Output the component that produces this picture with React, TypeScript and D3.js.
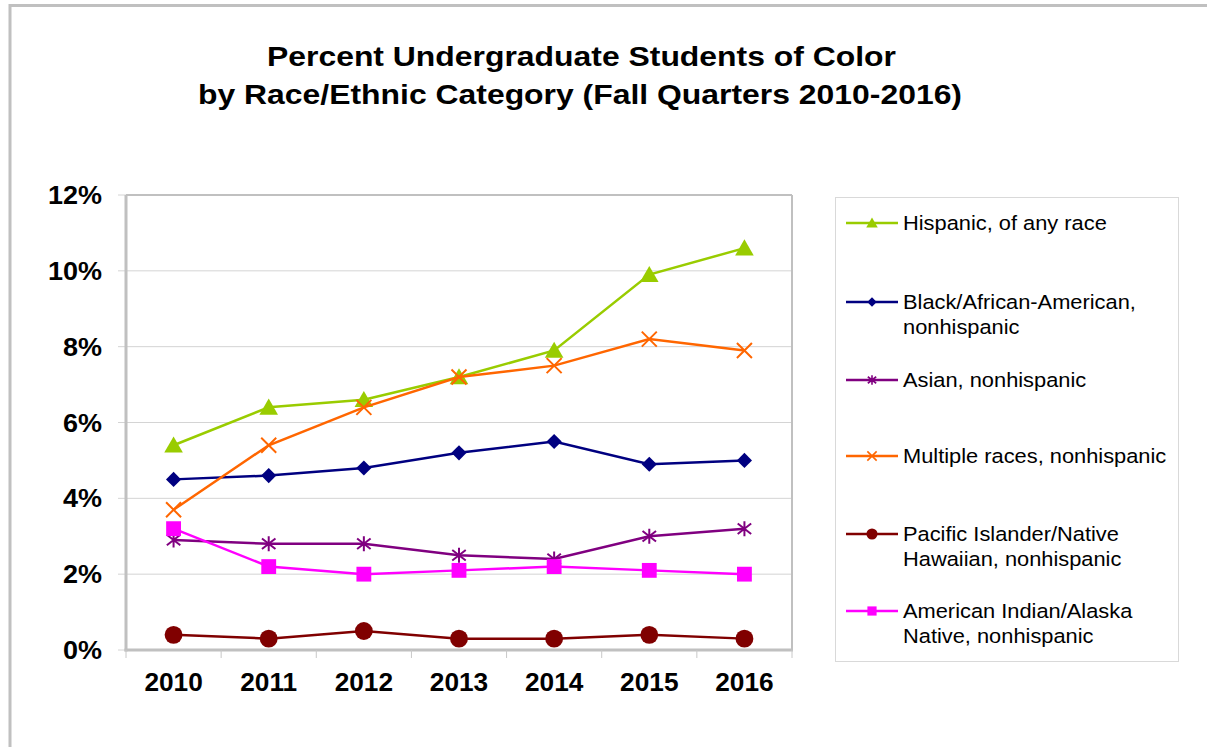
import React from 'react'
import * as d3 from 'd3'

const years = ['2010', '2011', '2012', '2013', '2014', '2015', '2016']

const hispanic = [5.4, 6.4, 6.6, 7.2, 7.9, 9.9, 10.6]
const black = [4.5, 4.6, 4.8, 5.2, 5.5, 4.9, 5.0]
const asian = [2.9, 2.8, 2.8, 2.5, 2.4, 3.0, 3.2]
const multiple = [3.7, 5.4, 6.4, 7.2, 7.5, 8.2, 7.9]
const pacific = [0.4, 0.3, 0.5, 0.3, 0.3, 0.4, 0.3]
const amIndian = [3.2, 2.2, 2.0, 2.1, 2.2, 2.1, 2.0]

const yTicks = [0, 2, 4, 6, 8, 10, 12]

type Marker = 'triangle' | 'diamond' | 'asterisk' | 'x' | 'circle' | 'square'

type Series = {
  label: string[]
  values: number[]
  color: string
  marker: Marker
}

// drawing order: last drawn on top
const series: Series[] = [
  { label: ['Hispanic, of any race'], values: hispanic, color: '#99CC00', marker: 'triangle' },
  { label: ['Black/African-American,', 'nonhispanic'], values: black, color: '#000080', marker: 'diamond' },
  { label: ['Asian, nonhispanic'], values: asian, color: '#800080', marker: 'asterisk' },
  { label: ['Multiple races, nonhispanic'], values: multiple, color: '#FF6600', marker: 'x' },
  { label: ['Pacific Islander/Native', 'Hawaiian, nonhispanic'], values: pacific, color: '#800000', marker: 'circle' },
  { label: ['American Indian/Alaska', 'Native, nonhispanic'], values: amIndian, color: '#FF00FF', marker: 'square' },
]

const legendRows = [223, 302, 380, 456, 534, 611]

const FONT = '"Liberation Sans", Arial, sans-serif'

const plot = { left: 126, right: 792, top: 195, bottom: 650 }

const xScale = d3
  .scaleBand<string>()
  .domain(years)
  .range([plot.left, plot.right])

const yScale = d3.scaleLinear().domain([0, 12]).range([plot.bottom, plot.top])

const symbolPath = (t: d3.SymbolType, size: number) => d3.symbol().type(t).size(size)() ?? ''

const MarkerShape: React.FC<{ m: Marker; x: number; y: number; color: string; small?: boolean }> = ({
  m,
  x,
  y,
  color,
  small,
}) => {
  const k = small ? 0.62 : 1
  if (m === 'x') {
    const r = 7.5 * k
    return (
      <path
        d={`M${x - r},${y - r}L${x + r},${y + r}M${x - r},${y + r}L${x + r},${y - r}`}
        stroke={color}
        strokeWidth={small ? 1.6 : 2}
        fill="none"
      />
    )
  }
  if (m === 'asterisk') {
    const r = 7.5 * k
    return (
      <path
        d={`M${x},${y - r}L${x},${y + r}M${x - r * 0.9},${y - r * 0.7}L${x + r * 0.9},${y + r * 0.7}M${x - r * 0.9},${y + r * 0.7}L${x + r * 0.9},${y - r * 0.7}`}
        stroke={color}
        strokeWidth={small ? 1.6 : 2}
        fill="none"
      />
    )
  }
  if (m === 'diamond') {
    return (
      <path
        d={symbolPath(d3.symbolSquare, 115 * k * k)}
        transform={`translate(${x},${y}) rotate(45)`}
        fill={color}
      />
    )
  }
  const types: Record<string, d3.SymbolType> = {
    triangle: d3.symbolTriangle,
    circle: d3.symbolCircle,
    square: d3.symbolSquare,
  }
  const sizes: Record<string, number> = { triangle: 150, circle: 250, square: 220 }
  const dy = m === 'triangle' ? 2 : 0
  return (
    <path
      d={symbolPath(types[m], sizes[m] * k * k)}
      transform={`translate(${x},${y + dy * k})`}
      fill={color}
    />
  )
}

// text with a horizontal stretch, to match the wide rendering of the original
const SText: React.FC<{
  x: number
  y: number
  sx: number
  size: number
  anchor?: 'start' | 'middle' | 'end'
  bold?: boolean
  children: React.ReactNode
}> = ({ x, y, sx, size, anchor = 'start', bold, children }) => (
  <text
    transform={`translate(${x},${y}) scale(${sx},1)`}
    dy="0.36em"
    textAnchor={anchor}
    fontSize={size}
    fontWeight={bold ? 'bold' : 'normal'}
    fill="#000"
  >
    {children}
  </text>
)

const App: React.FC = () => {
  const cx = (y: string) => xScale(y)! + xScale.bandwidth() / 2
  const line = (vals: number[]) =>
    d3
      .line<number>()
      .x((_, i) => cx(years[i]))
      .y((d) => yScale(d))(vals) ?? ''

  return (
    <svg
      width={1207}
      height={747}
      style={{ position: 'absolute', left: 0, top: 0, background: '#fff' }}
      fontFamily={FONT}
    >
      {/* chart frame */}
      <rect x={10} y={5.5} width={1220} height={760} fill="#fff" stroke="#c0c0c0" strokeWidth={3} />

      <text
        x={267}
        y={66}
        textLength={629}
        lengthAdjust="spacingAndGlyphs"
        fontSize={28}
        fontWeight="bold"
        fill="#000"
      >
        Percent Undergraduate Students of Color
      </text>
      <text
        x={198}
        y={104}
        textLength={764}
        lengthAdjust="spacingAndGlyphs"
        fontSize={28}
        fontWeight="bold"
        fill="#000"
      >
        by Race/Ethnic Category (Fall Quarters 2010-2016)
      </text>

      {/* gridlines */}
      {yTicks.map((t) => (
        <line
          key={t}
          x1={plot.left - 8}
          x2={plot.right}
          y1={yScale(t)}
          y2={yScale(t)}
          stroke="#d4d4d4"
          strokeWidth={1}
        />
      ))}
      <line x1={plot.left} x2={plot.right} y1={plot.top} y2={plot.top} stroke="#c0c0c0" strokeWidth={2} />
      <line x1={plot.right} x2={plot.right} y1={plot.top} y2={plot.bottom} stroke="#c0c0c0" strokeWidth={2} />

      {/* axes */}
      <line x1={plot.left} x2={plot.left} y1={plot.top} y2={plot.bottom + 1.5} stroke="#c0c0c0" strokeWidth={3} />
      <line x1={plot.left - 1.5} x2={plot.right + 1} y1={plot.bottom} y2={plot.bottom} stroke="#c0c0c0" strokeWidth={3} />
      {years.concat(['end']).map((y, i) => {
        const x = plot.left + i * xScale.step()
        return (
          <line key={y} x1={x} x2={x} y1={plot.bottom} y2={plot.bottom + 8} stroke="#c8c8c8" strokeWidth={1} />
        )
      })}

      {yTicks.map((t) => (
        <SText key={t} x={102} y={yScale(t)} sx={1.08} size={25} anchor="end" bold>
          {t}%
        </SText>
      ))}
      {years.map((y) => (
        <SText key={y} x={cx(y)} y={682} sx={1.05} size={25} anchor="middle" bold>
          {y}
        </SText>
      ))}

      {/* series */}
      {series.map((s) => (
        <g key={s.label[0]}>
          <path d={line(s.values)} fill="none" stroke={s.color} strokeWidth={2.5} />
          {s.values.map((v, i) => (
            <MarkerShape key={i} m={s.marker} x={cx(years[i])} y={yScale(v)} color={s.color} />
          ))}
        </g>
      ))}

      {/* legend */}
      <rect x={835.5} y={197.5} width={343} height={464} fill="#fff" stroke="#d9d9d9" strokeWidth={1} />
      {series.map((s, i) => {
        const y = legendRows[i]
        return (
          <g key={s.label[0]}>
            <line x1={846} x2={898} y1={y} y2={y} stroke={s.color} strokeWidth={2.5} />
            <MarkerShape m={s.marker} x={872} y={y} color={s.color} small />
            {s.label.map((l, j) => (
              <SText key={l} x={903} y={y + j * 25} sx={1.12} size={19.5}>
                {l}
              </SText>
            ))}
          </g>
        )
      })}
    </svg>
  )
}

export default App
